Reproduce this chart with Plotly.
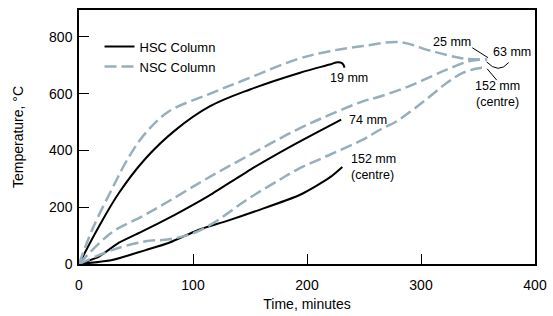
import plotly.graph_objects as go

# HSC (solid black) series
hsc19_x = [0, 17.5, 35, 58, 84, 115, 150, 194, 220, 227, 231, 233]
hsc19_y = [0, 132, 250, 370, 470, 556, 615, 674, 703, 711, 707, 692]
hsc74_x = [0, 17.5, 35, 55, 84, 113, 150, 191, 230]
hsc74_y = [0, 26, 75, 114, 173, 238, 332, 426, 509]
hsc152_x = [0, 29, 58.5, 79, 104.7, 130, 154, 194, 220, 231]
hsc152_y = [0, 14, 49, 75, 120, 152, 185, 244, 305, 342]

# NSC (dashed grey) series
nsc25_x = [0, 12, 29, 44, 58.5, 79, 113, 146, 191, 220, 249, 281, 308, 337, 358]
nsc25_y = [0, 125, 265, 379, 462, 538, 597, 650, 721, 750, 768, 782, 752, 724, 721]
nsc63_x = [0, 29, 55, 79, 113, 150, 191, 220, 249, 264, 293, 322.5, 343, 358]
nsc63_y = [0, 112, 167, 222, 303, 385, 473, 526, 573, 590, 632, 685, 715, 721]
nsc152_x = [0, 29, 58.5, 79, 100, 117.8, 147, 176, 191, 220, 249, 264, 278.7, 293, 308, 322.5, 337, 352, 356]
nsc152_y = [0, 49, 80, 87, 108, 144, 226, 297, 332, 385, 438, 473, 503, 544, 591, 638, 674, 691, 691]

x_ticks = [0, 100, 200, 300, 400]
y_ticks = [0, 200, 400, 600, 800]

BLACK = "#000000"
GREY = "#97aebb"
FONT = "Liberation Sans, Arial, sans-serif"

fig = go.Figure()

def add(x, y, color, dash, name, show, width, smooth=1.0):
    fig.add_trace(go.Scatter(
        x=x, y=y, mode="lines", name=name, showlegend=show, legendgroup=name,
        line=dict(color=color, width=width, dash=dash, shape="spline", smoothing=smooth),
        hoverinfo="skip"))

add(hsc19_x, hsc19_y, BLACK, "solid", "HSC Column", True, 2)
add(hsc74_x, hsc74_y, BLACK, "solid", "HSC Column", False, 2, 0.4)
add(hsc152_x, hsc152_y, BLACK, "solid", "HSC Column", False, 2, 0.7)
add(nsc25_x, nsc25_y, GREY, "12px,5px", "NSC Column", True, 2.5)
add(nsc63_x, nsc63_y, GREY, "12px,5px", "NSC Column", False, 2.5)
add(nsc152_x, nsc152_y, GREY, "12px,5px", "NSC Column", False, 2.5)

ann = dict(font=dict(family=FONT, size=12.5, color="#000"), showarrow=False, xref="x", yref="y")
annotations = [
    dict(text="19 mm", x=236.8, y=657, xanchor="center", **ann),
    dict(text="74 mm", x=235, y=509, xanchor="left", **ann),
    dict(text="152 mm<br>(centre)", x=236.5, y=343, xanchor="left", align="left", **ann),
    dict(text="25 mm", x=346, y=781, xanchor="right", **ann),
    dict(text="63 mm", x=361.2, y=746, xanchor="left", **ann),
    dict(text="152 mm<br>(centre)", x=367.5, y=600, xanchor="center", align="center", **ann),
]

shapes = [
    dict(type="line", xref="x", yref="y", x0=345, y0=762, x1=358.8, y1=727,
         line=dict(color="#000", width=1)),
    dict(type="line", xref="x", yref="y", x0=358, y0=688, x1=366.4, y1=648,
         line=dict(color="#000", width=1)),
    dict(type="path", xref="x", yref="y",
         path="M 357.6,712 Q 368,668 377,710",
         line=dict(color="#000", width=1)),
]

fig.update_layout(
    width=553, height=316,
    margin=dict(l=79, r=18, t=10, b=52),
    paper_bgcolor="white", plot_bgcolor="white",
    font=dict(family=FONT, size=14, color="#000"),
    showlegend=True,
    legend=dict(x=0.045, y=0.915, xanchor="left", yanchor="top",
                bgcolor="rgba(0,0,0,0)", font=dict(size=13, family=FONT),
                itemwidth=30, tracegroupgap=0),
    annotations=annotations,
    shapes=shapes,
    xaxis=dict(range=[0, 400], tickvals=x_ticks, ticks="inside", ticklen=10,
               tickcolor="#000", showline=True, linecolor="#000", linewidth=1.5,
               mirror=True, showgrid=False, zeroline=False, automargin=False,
               ticklabelstandoff=7,
               title=dict(text="Time, minutes", standoff=8, font=dict(size=14)),
               tickfont=dict(size=14)),
    yaxis=dict(range=[0, 895], tickvals=y_ticks, ticks="inside", ticklen=10,
               tickcolor="#000", showline=True, linecolor="#000", linewidth=1.5,
               mirror=True, showgrid=False, zeroline=False, automargin=False,
               ticklabelstandoff=2,
               title=dict(text="Temperature, °C", standoff=22, font=dict(size=14)),
               tickfont=dict(size=14)),
)

fig.write_html("out.html", post_script="document.body.style.margin='0';",
               config={"displayModeBar": False})
